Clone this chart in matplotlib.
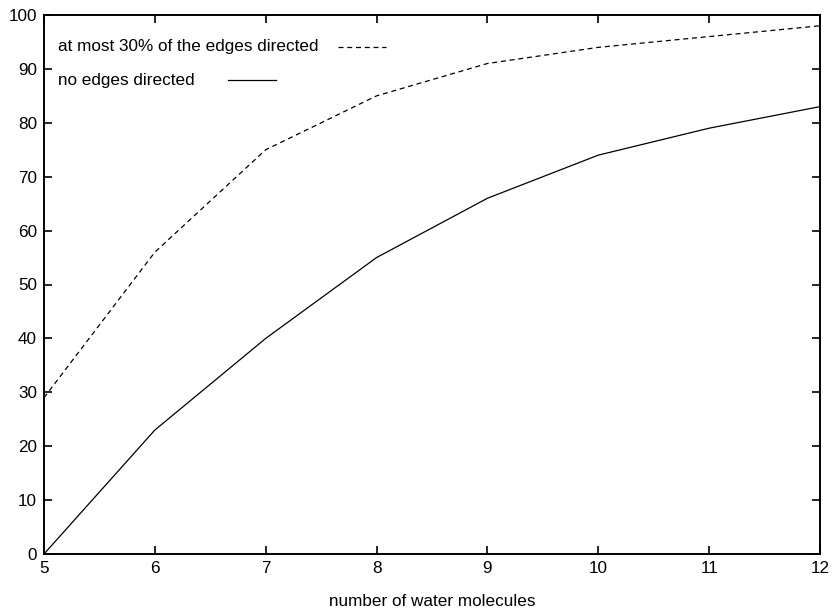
import matplotlib
matplotlib.use('Agg')
import matplotlib.pyplot as plt
from matplotlib.lines import Line2D

# data
molecules = [5, 6, 7, 8, 9, 10, 11, 12]
at_most_30 = [29, 56, 75, 85, 91, 94, 96, 98]
no_directed = [0, 23, 40, 55, 66, 74, 79, 83]

label_dashed = 'at most 30% of the edges directed'
label_solid = 'no edges directed'

plt.rcParams['font.family'] = ['Liberation Sans', 'DejaVu Sans']

fig = plt.figure(figsize=(8.33, 6.08), dpi=100)
ax = fig.add_axes([44 / 833, 1 - 554 / 608, 776 / 833, 539 / 608])

ax.plot(molecules, at_most_30, color='black', lw=0.9, linestyle=(0, (4, 3)))
ax.plot(molecules, no_directed, color='black', lw=0.9)

ax.set_xlim(5, 12)
ax.set_ylim(0, 100)
ax.set_xticks(range(5, 13))
ax.set_yticks(range(0, 101, 10))
ax.tick_params(direction='in', length=6, width=1.2, top=True, right=True,
               labelsize=12.3, pad=5, colors='black')
for s in ax.spines.values():
    s.set_linewidth(1.4)
ax.set_xlabel('number of water molecules', fontsize=12.3, labelpad=13)

# gnuplot-style key: text followed by line sample
ax.text(14 / 776, 1 - 32 / 539, label_dashed, transform=ax.transAxes,
        fontsize=12.3, va='center', ha='left')
ax.add_line(Line2D([294 / 776, 342 / 776], [1 - 32 / 539] * 2, transform=ax.transAxes,
                   color='black', lw=0.9, linestyle=(0, (4, 3))))
ax.text(14 / 776, 1 - 65 / 539, label_solid, transform=ax.transAxes,
        fontsize=12.3, va='center', ha='left')
ax.add_line(Line2D([184 / 776, 232 / 776], [1 - 65 / 539] * 2, transform=ax.transAxes,
                   color='black', lw=0.9))

fig.savefig('out.png', dpi=100)
